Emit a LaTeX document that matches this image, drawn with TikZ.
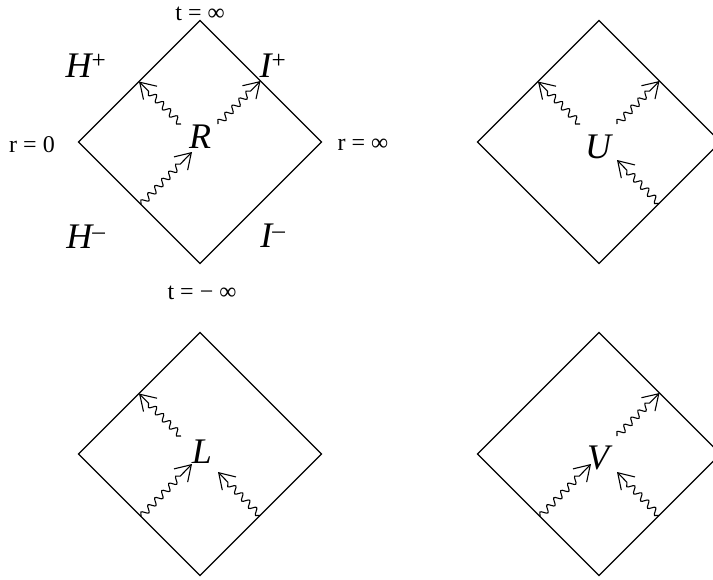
\documentclass[tikz,border=0pt]{standalone}
\usepackage{fontspec}
\setmainfont{Liberation Serif}
\usetikzlibrary{arrows.meta,decorations.pathmorphing}
\tikzset{
  frame/.style={line width=1.3pt, line join=miter},
  wave/.style={line width=1.1pt,
    decorate, decoration={snake, amplitude=3.2pt, segment length=10pt, post length=12pt},
    -{Straight Barb[length=15pt, width=19pt, line width=1.1pt]}},
  small/.style={font=\fontsize{24}{28}\selectfont, inner sep=0pt},
  big/.style={font=\fontsize{36}{40}\selectfont\itshape, inner sep=0pt}
}
\newcommand{\pdiamond}[2]{%
  \begin{scope}[shift={#2}]
    \coordinate (#1-top) at (0,-121.5);
    \coordinate (#1-left) at (-121.5,0);
    \coordinate (#1-bot) at (0,121.5);
    \coordinate (#1-right) at (121.5,0);
    \coordinate (#1-ul-s) at (-19,-18);
    \coordinate (#1-ul-e) at (-61,-60.5);
    \coordinate (#1-ur-s) at (18,-18);
    \coordinate (#1-ur-e) at (60.5,-61);
    \coordinate (#1-ll-s) at (-59,62.5);
    \coordinate (#1-ll-e) at (-8,10);
    \coordinate (#1-lr-s) at (60,61.5);
    \coordinate (#1-lr-e) at (18,18);
    \draw[frame] (#1-top) -- (#1-right) -- (#1-bot) -- (#1-left) -- cycle;
  \end{scope}}
\begin{document}
\begin{tikzpicture}[x=1pt,y=-1pt]
\useasboundingbox (0,0) rectangle (713,579);
\pdiamond{R}{(200,142)}
\pdiamond{U}{(599,142)}
\pdiamond{L}{(200,454)}
\pdiamond{V}{(599,454)}
% R
\node[big] (Rlab) at (200,137) {R};
\draw[wave] (R-ul-s) -- (R-ul-e);
\draw[wave] (R-ur-s) -- (R-ur-e);
\draw[wave] (R-ll-s) -- (R-ll-e);
\node[small, anchor=base] (tinf) at (200,20) {t = ∞};
\node[small] (r0) at (32,145) {r = 0};
\node[small] (rinf) at (363,145) {r = ∞};
\node[small] (tminf) at (202,293) {t = − ∞};
\node[big] (Hp) at (86,66) {H\textsuperscript{\upshape +}};
\node[big] (Hm) at (86,237) {H\textsuperscript{\upshape –}};
\node[big] (Ip) at (273,66) {I\textsuperscript{\upshape +}};
\node[big] (Im) at (273,236) {I\textsuperscript{\upshape –}};
% U
\node[big] (Ulab) at (598,147) {U};
\draw[wave] (U-ul-s) -- (U-ul-e);
\draw[wave] (U-ur-s) -- (U-ur-e);
\draw[wave] (U-lr-s) -- (U-lr-e);
% L
\node[big] (Llab) at (202,452) {L};
\draw[wave] (L-ul-s) -- (L-ul-e);
\draw[wave] (L-ll-s) -- (L-ll-e);
\draw[wave] (L-lr-s) -- (L-lr-e);
% V
\node[big] (Vlab) at (598,458) {V};
\draw[wave] (V-ur-s) -- (V-ur-e);
\draw[wave] (V-ll-s) -- (V-ll-e);
\draw[wave] (V-lr-s) -- (V-lr-e);
\end{tikzpicture}
\end{document}
